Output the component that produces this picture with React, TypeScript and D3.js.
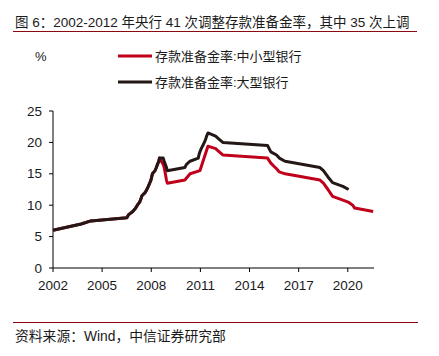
import React from "react";
import * as d3 from "d3";

const title = "图 6：2002-2012 年央行 41 次调整存款准备金率，其中 35 次上调";
const source = "资料来源：Wind，中信证券研究部";
const seriesNames = ["存款准备金率:中小型银行", "存款准备金率:大型银行"];
const yTicks = [0, 5, 10, 15, 20, 25];
const xTicks = [2002, 2005, 2008, 2011, 2014, 2017, 2020];

const commonDates = [2002, 2003.72, 2004.31, 2006.51, 2006.62, 2006.87, 2007.04, 2007.15, 2007.29, 2007.37, 2007.43, 2007.62, 2007.73, 2007.82, 2007.9, 2007.98, 2008.07, 2008.23, 2008.31, 2008.38, 2008.46, 2008.5];
const commonValues = [6, 7, 7.5, 8, 8.5, 9, 9.5, 10, 10.5, 11, 11.5, 12, 12.5, 13, 13.5, 14, 15, 15.5, 16, 16.5, 17, 17.5];

const largeDates = [2008.73, 2008.79, 2008.93, 2008.98, 2010.05, 2010.15, 2010.37, 2010.87, 2010.91, 2010.97, 2011.05, 2011.15, 2011.24, 2011.32, 2011.38, 2011.46, 2011.93, 2012.15, 2012.37, 2015.1, 2015.3, 2015.65, 2015.82, 2016.17, 2018.3, 2018.51, 2018.79, 2019.07, 2019.7, 2020.05];
const largeValues = [17.5, 17, 16, 15.5, 16, 16.5, 17, 17.5, 18, 18.5, 19, 19.5, 20, 20.5, 21, 21.5, 21, 20.5, 20, 19.5, 18.5, 18, 17.5, 17, 16, 15.5, 14.5, 13.6, 13, 12.5];

const smallDates = [2008.73, 2008.79, 2008.93, 2008.98, 2010.05, 2010.37, 2010.97, 2011.46, 2011.93, 2012.15, 2012.37, 2015.1, 2015.3, 2015.49, 2015.65, 2015.82, 2016.17, 2018.3, 2018.51, 2018.79, 2019.07, 2019.7, 2020.02, 2020.3, 2020.42, 2021.55];
const smallValues = [16.5, 16, 14, 13.5, 14, 15, 15.5, 19.4, 19, 18.5, 18, 17.5, 16.7, 16.2, 15.8, 15.3, 15, 14, 13.5, 12.5, 11.4, 10.8, 10.5, 10, 9.55, 9];

const RED = "#c0001a";
const BLACK = "#231815";
const FONT = "'Liberation Sans', Arial, 'Noto Sans CJK SC', sans-serif";

export default function App() {
  const x = d3.scaleLinear().domain([2002, 2021.6]).range([53, 374]);
  const y = d3.scaleLinear().domain([0, 25]).range([268, 111]);

  const small = [...commonDates.map((d, i) => [d, commonValues[i]]), ...smallDates.map((d, i) => [d, smallValues[i]])] as [number, number][];
  const large = [...commonDates.map((d, i) => [d, commonValues[i]]), ...largeDates.map((d, i) => [d, largeValues[i]])] as [number, number][];

  const line = d3.line<[number, number]>().x((d) => x(d[0])).y((d) => y(d[1]));

  return (
    <svg width={439} height={356} style={{ position: "absolute", left: 0, top: 0, background: "#fff" }} fontFamily={FONT}>
      <rect width={439} height={356} fill="#fff" />
      <text x={15} y={27} fontSize={13.5} fill="#1a1a1a">{title}</text>
      <line x1={13} x2={417} y1={31.5} y2={31.5} stroke="#8b0a10" strokeWidth={1} />

      <text x={35} y={56} fontSize={13} fill="#1a1a1a" dominantBaseline="central">%</text>

      {/* legend */}
      <line x1={118} x2={152} y1={56} y2={56} stroke={RED} strokeWidth={3} />
      <text x={155} y={56} fontSize={13} fill="#1a1a1a" dominantBaseline="central">{seriesNames[0]}</text>
      <line x1={118} x2={152} y1={82} y2={82} stroke={BLACK} strokeWidth={3} />
      <text x={155} y={82} fontSize={13} fill="#1a1a1a" dominantBaseline="central">{seriesNames[1]}</text>

      {/* axes */}
      <line x1={53} x2={53} y1={y(25)} y2={y(0)} stroke="#000" strokeWidth={1} />
      <line x1={53} x2={374} y1={y(0)} y2={y(0)} stroke="#000" strokeWidth={1} />
      {yTicks.map((t) => (
        <g key={t}>
          <line x1={49} x2={53} y1={y(t)} y2={y(t)} stroke="#000" />
          <text x={42} y={y(t)} fontSize={13.5} textAnchor="end" dominantBaseline="central" fill="#1a1a1a">{t}</text>
        </g>
      ))}
      {xTicks.map((t) => (
        <g key={t}>
          <line x1={x(t)} x2={x(t)} y1={y(0)} y2={y(0) + 4} stroke="#000" />
          <text x={x(t)} y={290} fontSize={13.5} textAnchor="middle" fill="#1a1a1a">{t}</text>
        </g>
      ))}

      <path d={line(small) || ""} fill="none" stroke={RED} strokeWidth={3} strokeLinejoin="round" />
      <path d={line(large) || ""} fill="none" stroke={BLACK} strokeWidth={3} strokeLinejoin="round" />

      <line x1={13} x2={418} y1={322.5} y2={322.5} stroke="#8b0a10" strokeWidth={1} />
      <text x={15} y={341} fontSize={13.8} fill="#1a1a1a">{source}</text>
    </svg>
  );
}
